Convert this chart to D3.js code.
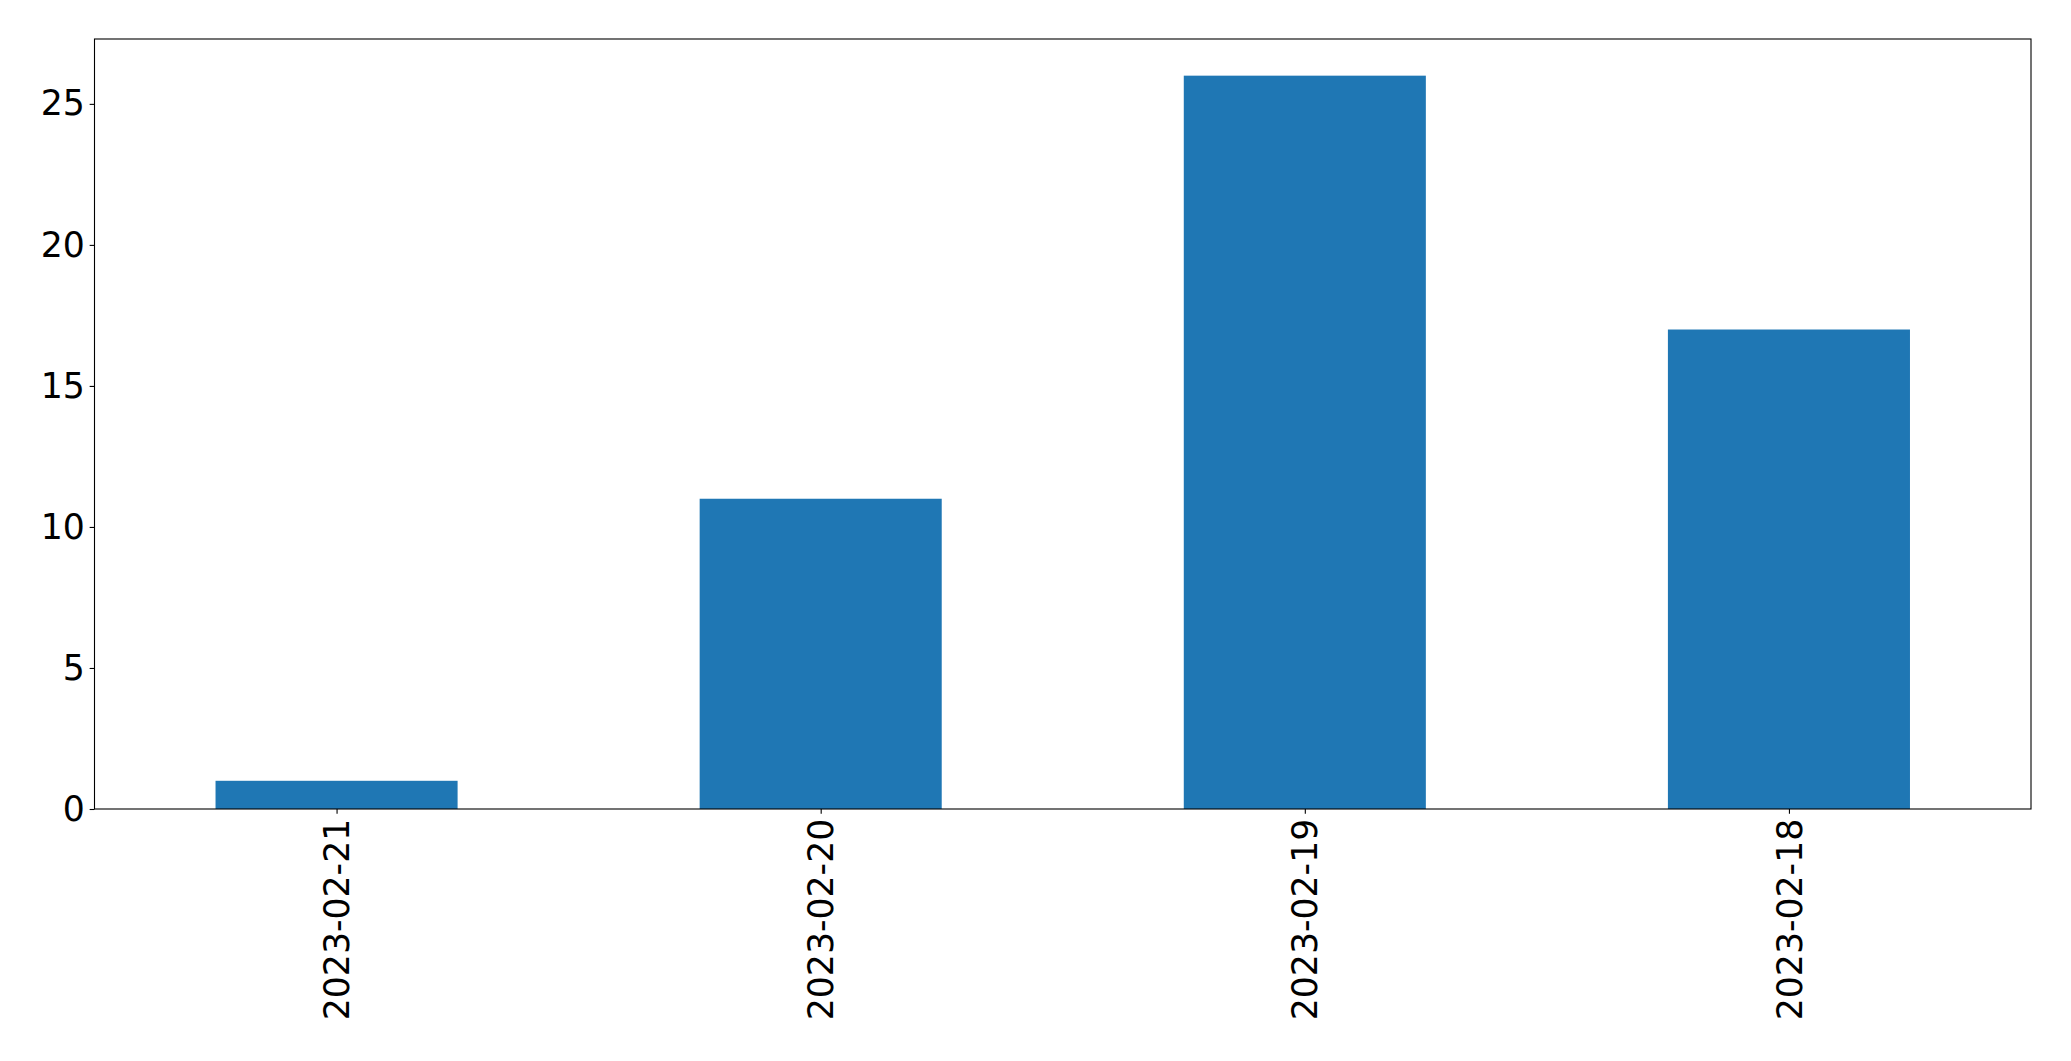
<!DOCTYPE html>
<html><head><meta charset="utf-8">
<script src="https://cdn.jsdelivr.net/npm/d3@7"></script>
<style>body{margin:0;background:#fff;}svg{display:block;}text{font-family:"DejaVu Sans",sans-serif;}</style>
</head><body>
<script>
const categories = ["2023-02-21", "2023-02-20", "2023-02-19", "2023-02-18"];
const values = [1, 11, 26, 17];
const yTicks = [0, 5, 10, 15, 20, 25];

const W = 2071, H = 1061;
const m = {left: 94.5, right: 2031, top: 39, bottom: 809};
const svg = d3.select("body").append("svg").attr("width", W).attr("height", H);

const x = d3.scaleLinear().domain([-0.5, categories.length - 0.5]).range([m.left, m.right]);
const y = d3.scaleLinear().domain([0, d3.max(values) * 1.05]).range([m.bottom, m.top]);
const fs = 34.7, tickLen = 4.86, pad = 4.86;

svg.append("g").selectAll("rect").data(values).join("rect")
  .attr("x", (d, i) => x(i - 0.25)).attr("width", (d, i) => x(i + 0.25) - x(i - 0.25))
  .attr("y", d => y(d)).attr("height", d => y(0) - y(d))
  .attr("fill", "#1f77b4");

const yAxis = svg.append("g").attr("transform", `translate(${m.left},0)`)
  .call(d3.axisLeft(y).tickValues(yTicks).tickSize(tickLen).tickPadding(pad).tickFormat(d3.format("d")));
yAxis.select(".domain").remove();
yAxis.selectAll("line").attr("stroke", "#000").attr("stroke-width", 1.1);
yAxis.selectAll("text").attr("font-size", fs).attr("fill", "#000").attr("font-family", "DejaVu Sans");

const xAxis = svg.append("g").attr("transform", `translate(0,${m.bottom})`)
  .call(d3.axisBottom(x).tickValues(d3.range(categories.length)).tickSize(tickLen).tickPadding(pad).tickFormat(i => categories[i]));
xAxis.select(".domain").remove();
xAxis.selectAll("line").attr("stroke", "#000").attr("stroke-width", 1.1);
xAxis.selectAll("text").attr("font-size", fs).attr("fill", "#000").attr("font-family", "DejaVu Sans")
  .attr("transform", "rotate(-90)").attr("text-anchor", "end").attr("dy", "0.35em")
  .attr("x", -(tickLen + pad)).attr("y", 0);

svg.append("rect").attr("x", m.left).attr("y", m.top)
  .attr("width", m.right - m.left).attr("height", m.bottom - m.top)
  .attr("fill", "none").attr("stroke", "#000").attr("stroke-width", 1.1);
</script>
</body></html>
